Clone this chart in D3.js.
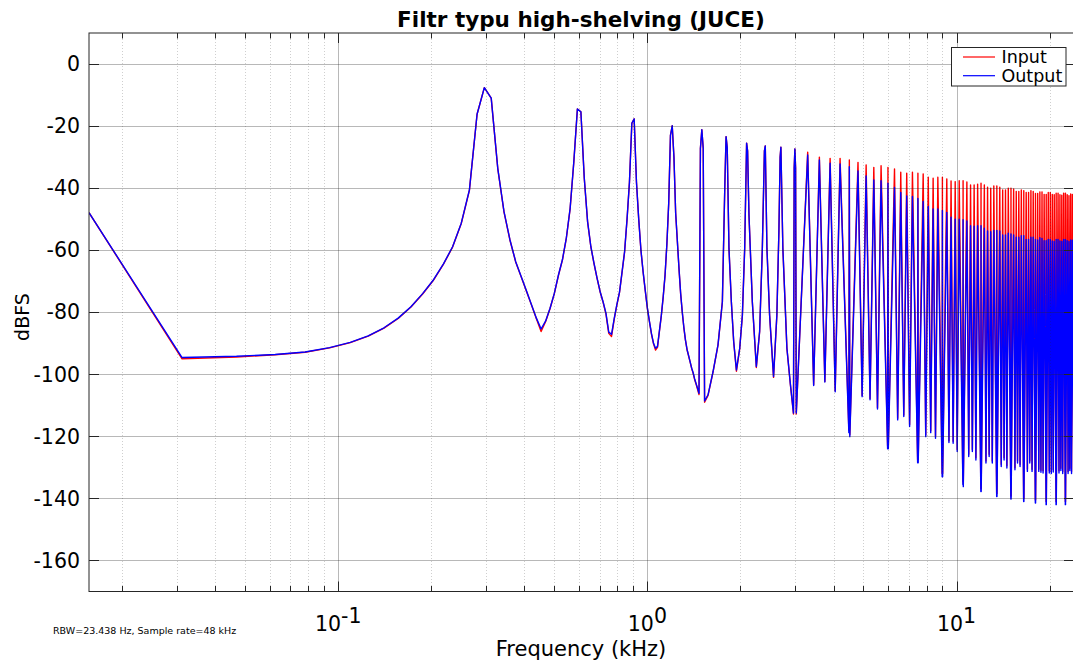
<!DOCTYPE html>
<html><head><meta charset="utf-8">
<script src="https://cdn.jsdelivr.net/npm/d3@7"></script>
<style>
body{margin:0;background:#fff}
svg{display:block}
text{font-family:"DejaVu Sans",Verdana,sans-serif;fill:#000}
</style>
</head><body>
<svg id="chart" width="1073" height="664"></svg>
<script>
// ---------------- DATA ----------------
const titleText = "Filtr typu high-shelving (JUCE)";
const xLabel = "Frequency (kHz)";
const yLabel = "dBFS";
const noteText = "RBW=23.438 Hz, Sample rate=48 kHz";
const seriesNames = ["Input", "Output"];
const seriesColors = ["#ff0000", "#0000ff"];

const yTicks = [-160, -140, -120, -100, -80, -60, -40, -20, 0];
const xMajorTicks = [0.1, 1, 10];
const xMajorExp = ["-1", "0", "1"];
const xMinorTicks = [0.02,0.03,0.04,0.05,0.06,0.07,0.08,0.09,0.2,0.3,0.4,0.5,0.6,0.7,0.8,0.9,2,3,4,5,6,7,8,9,20];

// spectrum vertices, 0.0156 - 3.03 kHz (kHz)
const freqLo = [
0.015625,0.03125,0.046875,0.0625,0.078125,0.09375,0.109375,0.125,0.140625,0.15625,
0.171875,0.1875,0.203125,0.21875,0.234375,0.25,0.265625,0.28125,0.296875,0.3125,
0.328125,0.34375,0.359375,0.375,0.390625,0.40625,0.421875,0.4375,0.453125,0.46875,
0.484375,0.5,0.515625,0.53125,0.546875,0.5625,0.578125,0.59375,0.609375,0.625,
0.640625,0.65625,0.671875,0.6875,0.703125,0.71875,0.734375,0.75,0.765625,0.78125,
0.796875,0.8125,0.828125,0.84375,0.859375,0.875,0.890625,0.90625,0.921875,0.9375,
0.953125,0.96875,0.984375,1.0,1.015625,1.03125,1.046875,1.0625,1.078125,1.09375,
1.109375,1.125,1.140625,1.15625,1.171875,1.1875,1.203125,1.21875,1.234375,1.25,
1.265625,1.28125,1.296875,1.3125,1.328125,1.34375,1.359375,1.375,1.390625,1.40625,
1.421875,1.4375,1.453125,1.46875,1.484375,1.5,1.515625,1.53125,
1.571,1.631,1.692,1.748,1.78125,1.796875,1.8125,1.836,1.869,1.902,1.941,
1.989,2.029,2.064,2.09375,2.109375,2.131,2.185,2.251,
2.307,2.354,2.390625,2.40625,2.436,2.485,2.559,
2.623,2.663,2.6875,2.703125,2.743,2.827,2.9,2.96875,2.984375,3.0,3.015625,3.03125
];
const outputLo = [
-47.9,-94.6,-94.2,-93.6,-92.8,-91.4,-89.7,-87.6,-85.0,-81.9,
-78.2,-74.0,-69.6,-64.5,-58.9,-51.3,-40.6,-16.2,-7.6,-11.0,
-33.6,-47.6,-56.7,-63.7,-68.5,-73.1,-77.6,-81.9,-85.4,-82.8,
-78.7,-73.9,-68.0,-63.0,-56.0,-46.5,-31.5,-14.5,-15.4,-36.8,
-50.8,-58.8,-64.2,-69.0,-73.3,-76.6,-80.3,-86.4,-87.1,-82.0,
-77.5,-73.5,-67.0,-60.5,-50.0,-38.0,-19.1,-17.7,-38.0,-50.0,
-60.0,-67.0,-73.0,-78.7,-83.0,-87.0,-90.0,-91.6,-91.0,-86.0,
-81.0,-75.0,-68.0,-58.0,-45.0,-23.0,-19.9,-30.0,-48.0,-57.0,
-66.0,-74.0,-80.0,-85.0,-89.0,-92.0,-94.0,-96.0,-98.0,-99.5,
-101.5,-103.0,-104.5,-106.1,-27.2,-21.2,-27.2,-108.6,
-106.6,-99.1,-90.5,-76.6,-38.0,-23.4,-27.0,-59.4,-76.6,-89.5,-98.6,
-91.6,-80.9,-59.4,-25.5,-28.0,-48.6,-76.6,-97.5,
-86.2,-59.4,-28.0,-26.4,-59.4,-80.9,-100.7,
-80.9,-54.0,-30.0,-26.8,-59.4,-91.6,-103.0,-112.5,-33.4,-27.4,-33.4,-112.5
];
const inputLo = [
-47.9,-95.0,-94.4,-93.7,-92.9,-91.5,-89.8,-87.7,-85.1,-82.0,
-78.3,-74.1,-69.7,-64.6,-59.0,-51.4,-40.7,-16.2,-7.6,-11.0,
-33.7,-47.7,-56.8,-63.8,-68.6,-73.2,-77.7,-82.1,-86.2,-83.0,
-78.8,-74.0,-68.1,-63.1,-56.1,-46.6,-31.6,-14.5,-15.4,-36.9,
-50.9,-58.9,-64.3,-69.1,-73.4,-76.7,-80.5,-86.8,-87.8,-82.2,
-77.6,-73.6,-67.1,-60.6,-50.1,-38.1,-19.1,-17.7,-38.1,-50.1,
-60.1,-67.1,-73.1,-78.8,-83.1,-87.1,-90.2,-92.2,-91.3,-86.1,
-81.1,-75.1,-68.1,-58.1,-45.1,-23.0,-19.9,-30.1,-48.1,-57.1,
-66.1,-74.1,-80.1,-85.1,-89.1,-92.1,-94.1,-96.1,-98.1,-99.7,
-101.7,-103.2,-104.8,-106.5,-27.2,-21.2,-27.2,-109.0,
-106.8,-99.2,-90.6,-76.7,-38.0,-23.4,-27.0,-59.5,-76.7,-89.6,-99.0,
-91.7,-81.0,-59.5,-25.5,-28.0,-48.7,-76.7,-97.8,
-86.3,-59.5,-28.0,-26.4,-59.5,-81.0,-101.0,
-81.0,-54.1,-30.0,-26.8,-59.5,-91.7,-103.2,-112.8,-33.4,-27.4,-33.4,-112.8
];

// harmonics of the 0.3 kHz tone, n = 11 ... 79
const f0 = 0.3;          // kHz, harmonic spacing
const binW = 0.015625;   // kHz, FFT bin spacing
const harmN = [11,12,13,14,15,16,17,18,19,20,21,22,23,24,25,26,27,28,29,30,
31,32,33,34,35,36,37,38,39,40,41,42,43,44,45,46,47,48,49,50,
51,52,53,54,55,56,57,58,59,60,61,62,63,64,65,66,67,68,69,70,
71,72,73,74,75,76,77,78,79];
const peakInput = [
-28.4,-30.0,-30.4,-30.4,-30.9,-31.7,-32.5,-33.3,-32.8,-33.3,
-33.8,-34.9,-35.2,-34.9,-35.2,-35.4,-36.5,-36.8,-36.5,-36.5,
-37.0,-37.7,-37.9,-37.6,-37.6,-38.0,-39.0,-39.0,-38.7,-38.4,
-39.0,-39.7,-40.0,-39.3,-39.3,-39.7,-40.6,-40.6,-40.0,-40.0,
-40.3,-41.1,-41.1,-40.6,-40.8,-41.4,-41.4,-40.8,-41.1,-41.7,
-41.7,-41.2,-41.2,-42.0,-42.0,-41.4,-41.4,-42.0,-42.1,-41.6,
-41.6,-42.1,-42.3,-41.6,-41.6,-42.1,-42.4,-41.9,-42.0];
const peakOutput = [
-29.3,-30.9,-32.0,-32.2,-33.1,-34.5,-36.1,-37.4,-37.6,-38.4,
-39.8,-41.4,-42.5,-42.7,-43.3,-44.3,-45.9,-46.7,-46.7,-47.2,
-47.8,-49.4,-50.0,-50.0,-50.2,-50.6,-52.1,-52.3,-52.1,-52.1,
-52.9,-53.8,-54.0,-53.6,-53.6,-53.8,-55.1,-55.1,-54.5,-54.8,
-55.1,-55.8,-55.8,-55.3,-55.3,-56.5,-56.5,-55.8,-55.8,-56.5,
-56.7,-56.0,-56.2,-56.9,-56.9,-56.5,-56.5,-57.0,-57.2,-56.5,
-56.5,-57.0,-57.2,-56.5,-56.5,-56.9,-57.2,-56.7,-56.8];
// trough following each harmonic (between n and n+1)
const troughOutput = [
-103.6,-102.5,-105.6,-118.8,-120.1,-107.2,-108.2,-111.2,-124.0,-124.0,
-114.7,-113.6,-116.8,-128.5,-128.5,-120.1,-118.8,-120.6,-133.0,-133.0,
-122.0,-122.2,-124.9,-135.6,-136.2,-126.5,-124.9,-127.6,-137.8,-137.8,
-128.6,-126.5,-128.6,-139.4,-139.4,-129.7,-127.6,-130.2,-140.2,-140.2,
-130.8,-128.6,-129.7,-141.0,-141.0,-131.3,-128.6,-131.3,-141.5,-141.5,
-131.3,-131.6,-131.8,-142.0,-142.0,-131.8,-132.0,-131.5,-142.0,-142.0,
-131.8,-131.0,-132.0,-142.0,-142.0,-132.0,-131.0,-132.0,-142.0];
const troughInput = [
-103.4,-102.3,-105.3,-118.0,-119.5,-106.8,-107.8,-110.8,-123.0,-123.0,
-114.2,-113.1,-116.2,-127.5,-127.5,-119.5,-118.2,-120.0,-132.0,-132.0,
-121.4,-121.6,-124.2,-134.6,-135.2,-125.8,-124.2,-126.9,-136.8,-136.8,
-127.9,-125.8,-127.9,-138.4,-138.4,-129.0,-126.9,-129.5,-139.2,-139.2,
-130.1,-127.9,-129.0,-140.0,-140.0,-130.6,-127.9,-130.6,-140.5,-140.5,
-130.6,-130.9,-131.1,-141.0,-141.0,-131.1,-131.3,-130.8,-141.0,-141.0,
-131.1,-130.3,-131.3,-141.0,-141.0,-131.3,-130.3,-131.3,-141.0];

// ---------------- LAYOUT ----------------
const W = 1073, H = 664;
const L = 89, R = 1074, T = 33, B = 591.5;
const svg = d3.select("#chart");

const x = d3.scaleLog().domain([0.015625, 23.984375]).range([L, R]);
const y = d3.scaleLinear().domain([-170, 10]).range([B, T]);

function buildSeries(lo, loVals, peaks, troughs) {
  const pts = lo.map((f, i) => [f, loVals[i]]);
  harmN.forEach((n, i) => {
    pts.push([n * f0, peaks[i]]);
    let tf;
    if (n % 5 === 0) tf = n * f0 + binW;
    else if ((n + 1) % 5 === 0) tf = (n + 1) * f0 - binW;
    else tf = (n + 0.5) * f0;
    pts.push([tf, troughs[i]]);
  });
  return pts;
}
const inputPts = buildSeries(freqLo, inputLo, peakInput, troughInput);
const outputPts = buildSeries(freqLo, outputLo, peakOutput, troughOutput);

svg.append("rect").attr("width", W).attr("height", H).attr("fill", "#fff");

svg.append("defs").append("clipPath").attr("id", "clip")
  .append("rect").attr("x", L).attr("y", T).attr("width", R - L).attr("height", B - T);

const line = d3.line().x(d => x(d[0])).y(d => y(d[1]));
const plot = svg.append("g").attr("clip-path", "url(#clip)");
[inputPts, outputPts].forEach((pts, i) => {
  plot.append("path").datum(pts).attr("d", line)
    .attr("fill", "none").attr("stroke", seriesColors[i])
    .attr("stroke-width", 1.4).attr("stroke-linejoin", "round");
});

// grid (drawn on top, like the original)
const grid = svg.append("g");
grid.selectAll(".gm").data(xMinorTicks).join("line")
  .attr("x1", d => Math.round(x(d)) + 0.5).attr("x2", d => Math.round(x(d)) + 0.5)
  .attr("y1", T).attr("y2", B)
  .attr("stroke", "#262626").attr("stroke-opacity", 0.22).attr("stroke-dasharray", "1,2");
grid.selectAll(".gx").data(xMajorTicks).join("line")
  .attr("x1", d => Math.round(x(d)) + 0.5).attr("x2", d => Math.round(x(d)) + 0.5)
  .attr("y1", T).attr("y2", B)
  .attr("stroke", "#262626").attr("stroke-opacity", 0.33);
grid.selectAll(".gy").data(yTicks).join("line")
  .attr("x1", L).attr("x2", R)
  .attr("y1", d => Math.round(y(d)) + 0.5).attr("y2", d => Math.round(y(d)) + 0.5)
  .attr("stroke", "#262626").attr("stroke-opacity", 0.33);

// axes box and ticks
const ax = svg.append("g").attr("stroke", "#262626").attr("fill", "none");
ax.append("rect").attr("x", L).attr("y", T).attr("width", R - L).attr("height", B - T).attr("stroke-width", 1);
yTicks.forEach(v => {
  const yy = Math.round(y(v)) + 0.5;
  ax.append("line").attr("x1", L).attr("x2", L + 10).attr("y1", yy).attr("y2", yy);
  ax.append("line").attr("x1", R - 10).attr("x2", R).attr("y1", yy).attr("y2", yy);
});
xMajorTicks.forEach(v => {
  const xx = Math.round(x(v)) + 0.5;
  ax.append("line").attr("x1", xx).attr("x2", xx).attr("y1", B).attr("y2", B - 10);
  ax.append("line").attr("x1", xx).attr("x2", xx).attr("y1", T).attr("y2", T + 10);
});
xMinorTicks.forEach(v => {
  const xx = Math.round(x(v)) + 0.5;
  ax.append("line").attr("x1", xx).attr("x2", xx).attr("y1", B).attr("y2", B - 5.5);
  ax.append("line").attr("x1", xx).attr("x2", xx).attr("y1", T).attr("y2", T + 5.5);
});

// tick labels
svg.append("g").selectAll("text").data(yTicks).join("text")
  .attr("x", 80).attr("y", d => y(d) + 7.2).attr("text-anchor", "end")
  .attr("font-size", 20.5).text(d => d);

const xl = svg.append("g").selectAll("text").data(xMajorTicks).join("text")
  .attr("x", d => x(d)).attr("y", 631).attr("text-anchor", "middle").attr("font-size", 20.5);
xl.append("tspan").text("10");
xl.append("tspan").attr("dy", -8).text((d, i) => xMajorExp[i]);

// labels
svg.append("text").attr("x", (L + 1073) / 2).attr("y", 26.5).attr("text-anchor", "middle")
  .attr("font-size", 21.5).attr("font-weight", "bold").text(titleText);
svg.append("text").attr("x", (L + 1073) / 2).attr("y", 656).attr("text-anchor", "middle")
  .attr("font-size", 21).text(xLabel);
svg.append("text").attr("transform", "translate(29,317) rotate(-90)").attr("text-anchor", "middle")
  .attr("font-size", 19).text(yLabel);
svg.append("text").attr("x", 53).attr("y", 634).attr("font-size", 9.5).attr("fill", "#262626").text(noteText);

// legend
const lg = svg.append("g");
lg.append("rect").attr("x", 951.5).attr("y", 47.5).attr("width", 114.5).attr("height", 38.5)
  .attr("fill", "#fff").attr("stroke", "#262626");
seriesNames.forEach((name, i) => {
  const yy = 57 + i * 18.7;
  lg.append("line").attr("x1", 963).attr("x2", 995).attr("y1", yy).attr("y2", yy)
    .attr("stroke", seriesColors[i]).attr("stroke-width", 1.2);
  lg.append("text").attr("x", 1001.5).attr("y", yy + 6).attr("font-size", 17.5).text(name);
});
</script>
</body></html>
